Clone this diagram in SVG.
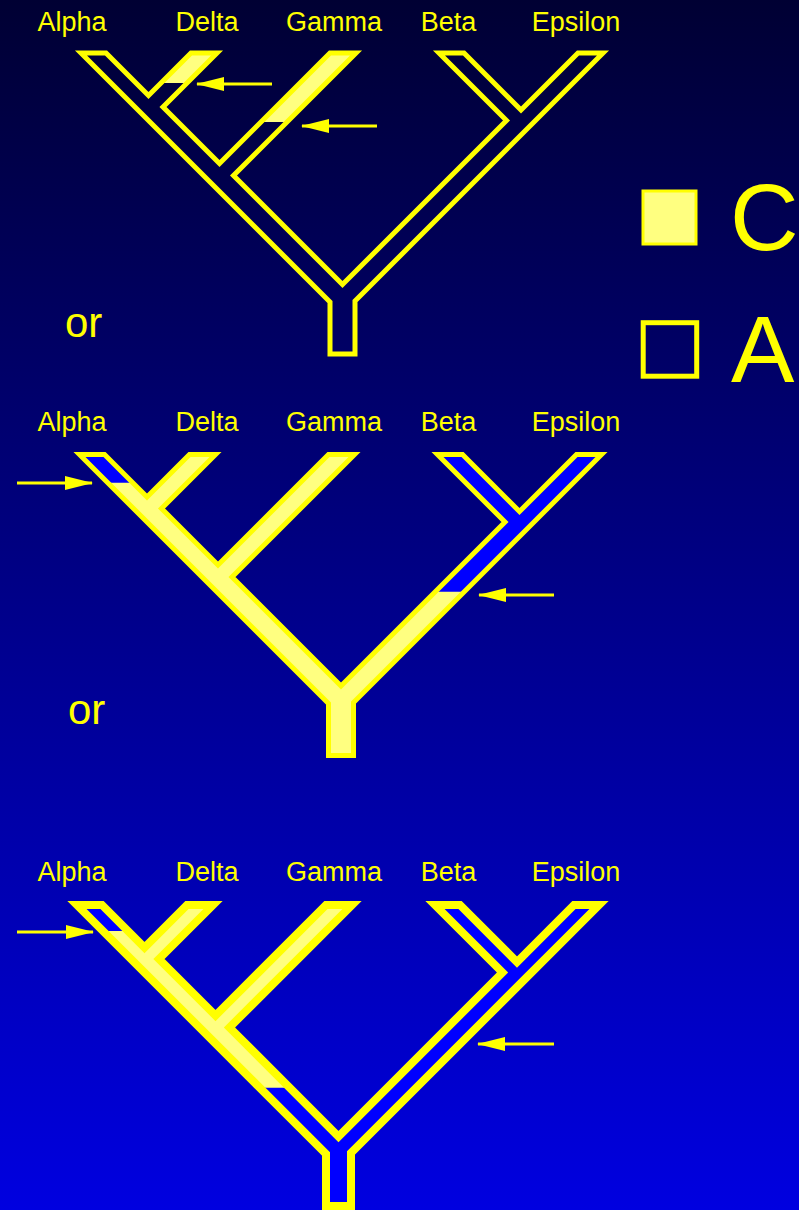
<svg xmlns="http://www.w3.org/2000/svg" xmlns:xlink="http://www.w3.org/1999/xlink" width="799" height="1210" viewBox="0 0 799 1210">
<defs>
<linearGradient id="bg" x1="0" y1="0" x2="0" y2="1">
<stop offset="0" stop-color="#000033"/>
<stop offset="1" stop-color="#0000E0"/>
</linearGradient>
<path id="tree" d="M81,53 L106,53 L148.5,95.5 L191,53 L217,53 L163,107 L219.5,163.5 L330,53 L356,53 L233.5,175.5 L342.5,284.5 L506.5,120.5 L439,53 L464,53 L521,110 L578,53 L603,53 L355,301 L355,354 L330,354 L330,302 Z"/>
<marker id="ah" markerUnits="userSpaceOnUse" markerWidth="28" markerHeight="14" viewBox="0 0 28 14" refX="27" refY="7" orient="auto">
<path d="M0,0 L28,7 L0,14 Z" fill="#FFFF00"/>
</marker>
</defs>
<style>
.lbl{font-family:"Liberation Sans",Arial,sans-serif;font-size:27px;fill:#FFFF00;text-anchor:middle}
.or{font-family:"Liberation Sans",Arial,sans-serif;font-size:42px;fill:#FFFF00}
.big{font-family:"Liberation Sans",Arial,sans-serif;font-size:95px;fill:#FFFF00}
.arrow{stroke:#FFFF00;stroke-width:3;fill:none;marker-end:url(#ah)}
.blue{fill:#0000FF}
.lite{fill:#FFFF80}
.outline{fill:none;stroke:#FFFF00;stroke-linejoin:miter;stroke-miterlimit:10}
</style>
<rect x="0" y="0" width="799" height="1210" fill="url(#bg)"/>

<g id="tree1">
<polygon class="lite" points="191,53 217,53 187,83 161,83"/>
<polygon class="lite" points="330,53 356,53 287,122 261,122"/>
<use xlink:href="#tree" class="outline" stroke-width="5"/>
</g>

<g id="tree2" transform="translate(-1.5,401.5)">
<use xlink:href="#tree" fill="#FFFF80"/>
<polygon class="blue" points="81,53 106,53 134.2,81.2 109.2,81.2"/>
<polygon class="blue" points="439,53 464,53 521,110 578,53 603,53 465.8,190.2 436.8,190.2 506.5,120.5"/>
<use xlink:href="#tree" class="outline" stroke-width="5"/>
</g>

<g id="tree3" transform="translate(-4,852)">
<use xlink:href="#tree" fill="#FFFF80"/>
<polygon class="blue" points="81,53 106,53 132,79 107,79"/>
<polygon class="blue" points="263.7,235.7 293.7,235.7 342.5,284.5 506.5,120.5 439,53 464,53 521,110 578,53 603,53 355,301 355,354 330,354 330,302"/>
<use xlink:href="#tree" class="outline" stroke-width="8"/>
</g>

<g id="labels1">
<text class="lbl" x="72" y="31">Alpha</text>
<text class="lbl" x="207" y="31">Delta</text>
<text class="lbl" x="334" y="31">Gamma</text>
<text class="lbl" x="448.5" y="31">Beta</text>
<text class="lbl" x="576" y="31">Epsilon</text>
</g>
<g id="labels2">
<text class="lbl" x="72" y="431">Alpha</text>
<text class="lbl" x="207" y="431">Delta</text>
<text class="lbl" x="334" y="431">Gamma</text>
<text class="lbl" x="448.5" y="431">Beta</text>
<text class="lbl" x="576" y="431">Epsilon</text>
</g>
<g id="labels3">
<text class="lbl" x="72" y="881">Alpha</text>
<text class="lbl" x="207" y="881">Delta</text>
<text class="lbl" x="334" y="881">Gamma</text>
<text class="lbl" x="448.5" y="881">Beta</text>
<text class="lbl" x="576" y="881">Epsilon</text>
</g>

<g id="or1"><text class="or" x="65" y="337">or</text></g>
<g id="or2"><text class="or" x="68" y="724">or</text></g>

<g id="legendC">
<rect x="643" y="191" width="53" height="53" fill="#FFFF80" stroke="#FFFF00" stroke-width="3"/>
<text class="big" x="730" y="250">C</text>
</g>
<g id="legendA">
<rect x="643.2" y="322.7" width="53.5" height="53.5" fill="none" stroke="#FFFF00" stroke-width="5"/>
<text class="big" x="731" y="381.5">A</text>
</g>

<g id="connectors">
<path class="arrow" d="M272,84 L197,84"/>
<path class="arrow" d="M377,126 L302,126"/>
<path class="arrow" d="M17,483 L92,483"/>
<path class="arrow" d="M554,595 L479,595"/>
<path class="arrow" d="M17,932 L93,932"/>
<path class="arrow" d="M554,1044 L478,1044"/>
</g>
</svg>
